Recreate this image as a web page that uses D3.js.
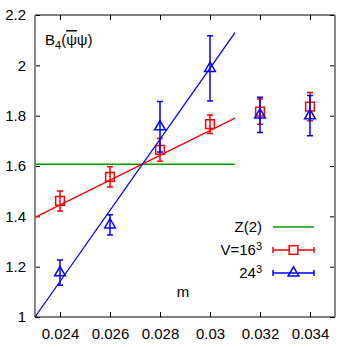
<!DOCTYPE html>
<html>
<head>
<meta charset="utf-8">
<script src="https://cdn.jsdelivr.net/npm/d3@7"></script>
<style>
  body { margin: 0; background: #fff; }
  svg { display: block; font-family: "Liberation Sans", Arial, sans-serif; }
</style>
</head>
<body>
<svg id="chart" width="347" height="347"></svg>
<script>
// quark mass values
const masses = [0.024, 0.026, 0.028, 0.030, 0.032, 0.034];

// V=16^3 Binder cumulant and errors
const b4_16 = [1.461, 1.557, 1.664, 1.766, 1.816, 1.836];
const err16 = [0.040, 0.040, 0.045, 0.037, 0.050, 0.056];

// 24^3 Binder cumulant and errors
const b4_24 = [1.176, 1.366, 1.756, 1.988, 1.803, 1.800];
const err24 = [0.050, 0.040, 0.100, 0.130, 0.070, 0.080];

// fitted lines (end points) and the Z(2) value
const fitM = [0.023, 0.031];
const fit16 = [1.396, 1.790];
const fit24 = [1.000, 2.130];
const z2 = [1.607, 1.607];

const xTicks = [0.024, 0.026, 0.028, 0.030, 0.032, 0.034];
const yTicks = [1, 1.2, 1.4, 1.6, 1.8, 2, 2.2];

const svg = d3.select('#chart');
const pLeft = 35, pRight = 335, pTop = 15, pBottom = 317;

const x = d3.scaleLinear().domain([0.023, 0.035]).range([pLeft, pRight]);
const y = d3.scaleLinear().domain([1, 2.2]).range([pBottom, pTop]);

const red = '#ff0000';
const blue = '#0000ff';
const green = '#009a00';

// tick marks on all four sides, pointing inward
const tickLen = 5;
svg.append('g').attr('transform', `translate(0,${pBottom})`)
    .call(d3.axisBottom(x).tickValues(xTicks).tickSize(-tickLen).tickPadding(11)
        .tickFormat(d => String(+d.toFixed(3))))
    .call(g => g.select('.domain').remove())
    .call(g => g.selectAll('text').attr('font-size', 15).attr('fill', '#000').attr('font-family', null));
svg.append('g').attr('transform', `translate(0,${pTop})`)
    .call(d3.axisTop(x).tickValues(xTicks).tickSize(-tickLen).tickFormat(''))
    .call(g => g.select('.domain').remove());
svg.append('g').attr('transform', `translate(${pLeft},0)`)
    .call(d3.axisLeft(y).tickValues(yTicks).tickSize(-tickLen).tickPadding(9)
        .tickFormat(d => String(+d.toFixed(1))))
    .call(g => g.select('.domain').remove())
    .call(g => g.selectAll('text').attr('font-size', 15).attr('fill', '#000').attr('font-family', null));
svg.append('g').attr('transform', `translate(${pRight},0)`)
    .call(d3.axisRight(y).tickValues(yTicks).tickSize(-tickLen).tickFormat(''))
    .call(g => g.select('.domain').remove());

// frame: black top/bottom, grey left/right
svg.append('line').attr('x1', pLeft).attr('x2', pRight).attr('y1', pTop).attr('y2', pTop)
    .attr('stroke', '#000').attr('stroke-width', 1);
svg.append('line').attr('x1', pLeft).attr('x2', pRight).attr('y1', pBottom).attr('y2', pBottom)
    .attr('stroke', '#000').attr('stroke-width', 1);
svg.append('line').attr('x1', pLeft).attr('x2', pLeft).attr('y1', pTop).attr('y2', pBottom)
    .attr('stroke', '#888').attr('stroke-width', 2);
svg.append('line').attr('x1', pRight).attr('x2', pRight).attr('y1', pTop).attr('y2', pBottom)
    .attr('stroke', '#888').attr('stroke-width', 2);

const line = d3.line().x(d => x(d[0])).y(d => y(d[1]));

// Z(2) line
svg.append('path').datum(d3.zip(fitM, z2)).attr('d', line)
    .attr('fill', 'none').attr('stroke', green).attr('stroke-width', 1.3);

function errorBars(g, vals, errs, color) {
    const cap = 3;
    const data = d3.zip(masses, vals, errs);
    g.selectAll('.eb').data(data).enter().append('path')
        .attr('d', d => {
            const cx = x(d[0]), y1 = y(d[1] + d[2]), y2 = y(d[1] - d[2]);
            return `M${cx},${y1}V${y2}M${cx - cap},${y1}H${cx + cap}M${cx - cap},${y2}H${cx + cap}`;
        })
        .attr('stroke', color).attr('stroke-width', 1.5).attr('fill', 'none');
}

// V=16^3
const g16 = svg.append('g');
g16.append('path').datum(d3.zip(fitM, fit16)).attr('d', line)
    .attr('fill', 'none').attr('stroke', red).attr('stroke-width', 1.3);
errorBars(g16, b4_16, err16, red);
const sq = d3.symbol().type(d3.symbolSquare).size(76);
g16.selectAll('.pt').data(d3.zip(masses, b4_16)).enter().append('path')
    .attr('d', sq).attr('transform', d => `translate(${x(d[0])},${y(d[1])})`)
    .attr('fill', 'none').attr('stroke', red).attr('stroke-width', 1.5);

// 24^3
const g24 = svg.append('g');
g24.append('path').datum(d3.zip(fitM, fit24)).attr('d', line)
    .attr('fill', 'none').attr('stroke', blue).attr('stroke-width', 1.3);
errorBars(g24, b4_24, err24, blue);
const tri = d3.symbol().type(d3.symbolTriangle).size(50);
g24.selectAll('.pt').data(d3.zip(masses, b4_24)).enter().append('path')
    .attr('d', tri).attr('transform', d => `translate(${x(d[0])},${y(d[1])})`)
    .attr('fill', 'none').attr('stroke', blue).attr('stroke-width', 1.5);

// legend
const legX = 262, sampleX1 = 273, sampleX2 = 314, legY = [227, 250, 273];
const leg = svg.append('g').attr('font-size', 15);
const labels = [['Z(2)'], ['V=16', '3'], ['24', '3']];
labels.forEach((l, i) => {
    const t = leg.append('text').attr('x', legX).attr('y', legY[i]).attr('dy', '0.35em')
        .attr('text-anchor', 'end');
    t.append('tspan').text(l[0]);
    if (l[1]) t.append('tspan').attr('dy', '-0.45em').attr('font-size', 11).text(l[1]);
});
leg.append('line').attr('x1', sampleX1).attr('x2', sampleX2).attr('y1', legY[0]).attr('y2', legY[0])
    .attr('stroke', green).attr('stroke-width', 1.3);
[[red, sq], [blue, tri]].forEach(([c, sym], i) => {
    const yy = legY[i + 1];
    leg.append('path')
        .attr('d', `M${sampleX1},${yy}H${sampleX2}M${sampleX1},${yy - 3}V${yy + 3}M${sampleX2},${yy - 3}V${yy + 3}`)
        .attr('stroke', c).attr('stroke-width', 1.5).attr('fill', 'none');
    leg.append('path').attr('d', sym)
        .attr('transform', `translate(${(sampleX1 + sampleX2) / 2},${yy})`)
        .attr('fill', i === 0 ? '#fff' : 'none').attr('stroke', c).attr('stroke-width', 1.5);
});

// axis labels
svg.append('text').attr('x', 183).attr('y', 292).attr('dy', '0.35em')
    .attr('text-anchor', 'middle').attr('font-size', 15).text('m');

const yl = svg.append('text').attr('x', 45).attr('y', 45).attr('font-size', 15);
yl.append('tspan').text('B');
yl.append('tspan').attr('dy', 4).attr('font-size', 11).text('4');
yl.append('tspan').attr('dy', -4).text('(');
yl.append('tspan').style('text-decoration', 'overline').text('ψ');
yl.append('tspan').text('ψ)');
</script>
</body>
</html>
